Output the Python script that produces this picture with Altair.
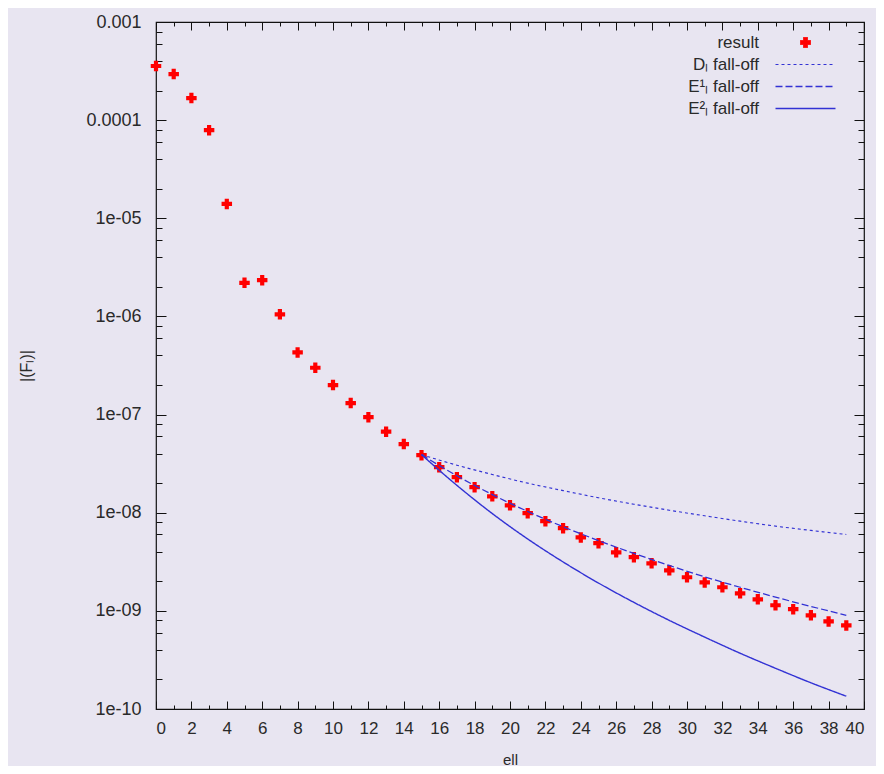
import altair as alt
import pandas as pd

# ---------------- data ----------------
ell = list(range(0, 40))
result = [3.56e-4, 2.95e-4, 1.68e-4, 7.9e-5, 1.4e-5, 2.2e-6, 2.34e-6, 1.05e-6, 4.3e-7, 3.0e-7,
          2.0e-7, 1.31e-7, 9.4e-8, 6.7e-8, 5.0e-8, 3.86e-8, 2.91e-8, 2.30e-8, 1.82e-8, 1.47e-8,
          1.19e-8, 9.9e-9, 8.2e-9, 6.95e-9, 5.6e-9, 4.89e-9, 3.95e-9, 3.52e-9, 3.05e-9, 2.59e-9,
          2.20e-9, 1.95e-9, 1.74e-9, 1.51e-9, 1.31e-9, 1.14e-9, 1.04e-9, 9.0e-10, 7.8e-10, 7.1e-10]

line_ell = [15, 17, 19, 21, 23, 25, 27, 29, 31, 33, 35, 37, 39]
d_falloff = [3.9e-8, 3.05e-8, 2.45e-8, 2.0e-8, 1.68e-8, 1.42e-8, 1.22e-8, 1.06e-8, 9.3e-9,
             8.2e-9, 7.3e-9, 6.6e-9, 6.0e-9]
e1_falloff = [3.9e-8, 2.38e-8, 1.53e-8, 1.03e-8, 7.2e-9, 5.2e-9, 3.85e-9, 2.9e-9, 2.22e-9,
              1.74e-9, 1.38e-9, 1.11e-9, 9.0e-10]
e2_falloff = [3.9e-8, 1.9e-8, 9.8e-9, 5.4e-9, 3.15e-9, 1.92e-9, 1.22e-9, 8.0e-10, 5.4e-10,
              3.7e-10, 2.6e-10, 1.85e-10, 1.35e-10]

names = ["result", "Dₗ fall-off", "E¹ₗ fall-off", "E²ₗ fall-off"]

x_major = list(range(0, 41, 2))
x_minor = list(range(1, 40, 2))
y_major = [1e-10, 1e-9, 1e-8, 1e-7, 1e-6, 1e-5, 1e-4, 1e-3]
y_labels = ["0.001", "0.0001", "1e-05", "1e-06", "1e-07", "1e-08", "1e-09", "1e-10"]
y_minor = [k * d for d in y_major[:-1] for k in (2, 4, 6, 8)]

# ---------------- styling ----------------
W, H = 708, 687
BG = "#e8e5f1"
FONT = "Liberation Sans"
TXT = "#2a2a2a"
colors = ["#ff0000", "#3232d4", "#3232d4", "#3232d4"]
shapes = ["cross", "M-6,0H6", "M-6,0H6", "M-6,0H6"]
dashes = [[1, 0], [3, 3], [7, 3], [1, 0]]
widths = [1, 1.4, 1.7, 2.2]

pts = pd.DataFrame({"ell": ell, "value": result, "series": names[0]})
lines = pd.concat([
    pd.DataFrame({"ell": line_ell, "value": v, "series": n})
    for n, v in zip(names[1:], [d_falloff, e1_falloff, e2_falloff])
])

xscale = alt.Scale(domain=[0, 40], nice=False, zero=False)
yscale = alt.Scale(type="log", domain=[1e-10, 1e-3], nice=False)

label_expr = "[" + ",".join("'%s'" % s for s in y_labels) + "][round(-log(datum.value)/LN10) - 3]"

x_axis = alt.Axis(values=x_major, ticks=False, domain=False, grid=False, labelFontSize=17,
                  labelPadding=11, labelFont=FONT, labelColor=TXT, title="ell",
                  titleFont=FONT, titleFontSize=15, titleFontWeight="normal",
                  titleY=50, titleBaseline="middle", titleColor=TXT)
y_axis = alt.Axis(values=y_major, ticks=False, domain=False, grid=False, labelFontSize=18,
                  labelPadding=15, labelFont=FONT, labelColor=TXT, labelExpr=label_expr,
                  title="|(Fₗ)|", titleFont=FONT, titleFontSize=16, titleFontWeight="normal",
                  titleX=-130, titleY=H / 2, titleAngle=-90, titleAlign="center",
                  titleBaseline="middle", titleColor=TXT)

color_enc = alt.Color("series:N", scale=alt.Scale(domain=names, range=colors),
                      legend=alt.Legend(orient="none", legendX=507, legendY=12, title=None,
                                        labelAlign="right", labelOffset={"expr": "-55"},
                                        symbolOffset=134,
                                        labelFont=FONT, labelFontSize=17, labelColor=TXT,
                                        rowPadding=4, padding=0, symbolStrokeWidth=1.6))
width_enc = alt.StrokeWidth("series:N", scale=alt.Scale(domain=names, range=widths), legend=None)

point_layer = alt.Chart(pts).mark_point(filled=True, size=110, opacity=1).encode(
    x=alt.X("ell:Q", scale=xscale, axis=x_axis),
    y=alt.Y("value:Q", scale=yscale, axis=y_axis),
    color=color_enc,
    shape=alt.Shape("series:N", scale=alt.Scale(domain=names, range=shapes)),
)

line_layer = alt.Chart(lines).mark_line(interpolate="monotone").encode(
    x=alt.X("ell:Q", scale=xscale, axis=None),
    y=alt.Y("value:Q", scale=yscale, axis=None),
    color=color_enc,
    strokeDash=alt.StrokeDash("series:N", scale=alt.Scale(domain=names, range=dashes)),
    strokeWidth=width_enc,
    detail="series:N",
)


def tick_axis(vals, orient, length):
    # an axis drawn inside the frame: pulled in by its tick length, ticks pointing back out
    return alt.Axis(values=vals, orient=orient, offset={"expr": str(-length)}, tickSize=length,
                    ticks=True, tickColor="#111", tickWidth=1, labels=False, domain=False,
                    grid=False, title=None)


def yticks(vals, orient, length):
    return alt.Chart(pd.DataFrame({"v": vals})).mark_rule(opacity=0).encode(
        y=alt.Y("v:Q", scale=yscale, axis=tick_axis(vals, orient, length)),
        x=alt.value(0), x2=alt.value(length))


def xticks(vals, orient, length):
    return alt.Chart(pd.DataFrame({"v": vals})).mark_rule(opacity=0).encode(
        x=alt.X("v:Q", scale=xscale, axis=tick_axis(vals, orient, length)),
        y=alt.value(0), y2=alt.value(length))


tick_layers = [
    yticks(y_major, "left", 10), yticks(y_minor, "left", 6),
    yticks(y_major, "right", 10), yticks(y_minor, "right", 6),
    xticks(x_major, "bottom", 8), xticks(x_minor, "bottom", 4),
    xticks(x_major, "top", 8), xticks(x_minor, "top", 4),
]

chart = alt.layer(point_layer, line_layer, *tick_layers).resolve_axis(
    x="independent", y="independent"
).properties(
    width=W, height=H,
    autosize=alt.AutoSizeParams(type="none"),
    padding={"left": 148, "top": 14, "right": 12, "bottom": 57},
    background=BG,
).configure_view(stroke="#111", strokeWidth=1.2, fill=BG)

chart.save("out.html", embed_options={"renderer": "svg", "actions": False})
